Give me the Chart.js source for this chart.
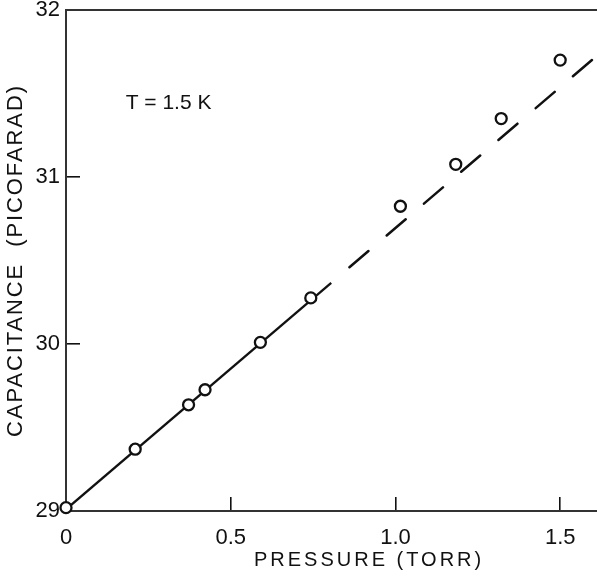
<!DOCTYPE html>
<html>
<head>
<meta charset="utf-8">
<script src="https://cdn.jsdelivr.net/npm/chart.js@4/dist/chart.umd.min.js"></script>
<style>
  html, body { margin: 0; padding: 0; background: #fff; overflow: hidden; width: 597px; height: 579px; }
  canvas { display: block; }
</style>
</head>
<body>
<canvas id="c" width="680" height="579"></canvas>
<script>
// ---- data ----
const pressure    = [0, 0.21, 0.372, 0.422, 0.59, 0.743, 1.015, 1.183, 1.321, 1.50];
const capacitance = [29.02, 29.37, 29.636, 29.726, 30.01, 30.276, 30.825, 31.076, 31.35, 31.70];
const fitSolidX = [0, 0.805];
const fitSolidY = [29.01, 30.366];
const fitDashX  = [0.805, 1.774];
const fitDashY  = [30.366, 32.0];
const xTickValues = [0, 0.5, 1.0, 1.5];
const xTickLabels = ['0', '0.5', '1.0', '1.5'];
const yTickValues = [29, 30, 31, 32];
const yTickLabels = ['29', '30', '31', '32'];
const xRange = [0, 1.84];
const yRange = [29, 32];
const xTitle = 'PRESSURE (TORR)';
const yTitle = 'CAPACITANCE  (PICOFARAD)';
const annotationText = 'T = 1.5 K';
const annotationPos = [0.181, 31.44];

const FONT = "'Liberation Sans', Arial, Helvetica, sans-serif";
const INK = '#111';

const toXY = (xs, ys) => xs.map((x, i) => ({ x: x, y: ys[i] }));

const spacingPlugin = {
  id: 'titleSpacing',
  beforeDraw(chart) {
    for (const s of Object.values(chart.scales)) {
      if (s._spacedPatched) continue;
      const orig = s.drawTitle.bind(s);
      const sp = s.axis === 'y' ? '1.9px' : '3px';
      s.drawTitle = function () {
        const ctx = this.ctx;
        ctx.save();
        ctx.letterSpacing = sp;
        orig();
        ctx.restore();
      };
      s._spacedPatched = true;
    }
  }
};

const annotationPlugin = {
  id: 'tempLabel',
  afterDatasetsDraw(chart) {
    const ctx = chart.ctx;
    const px = chart.scales.x.getPixelForValue(annotationPos[0]);
    const py = chart.scales.y.getPixelForValue(annotationPos[1]);
    ctx.save();
    ctx.font = '21px ' + FONT;
    ctx.fillStyle = INK;
    ctx.textAlign = 'left';
    ctx.textBaseline = 'middle';
    ctx.fillText(annotationText, px, py);
    ctx.restore();
  }
};

const noPad = s => { s.paddingTop = 0; s.paddingBottom = 0; s.paddingLeft = 0; s.paddingRight = 0; };

new Chart(document.getElementById('c'), {
  type: 'scatter',
  data: {
    datasets: [
      {
        data: toXY(pressure, capacitance),
        showLine: false,
        pointStyle: 'circle',
        pointRadius: 5.5,
        pointBorderWidth: 2.3,
        pointBackgroundColor: '#fff',
        pointBorderColor: INK,
        clip: false
      },
      {
        data: toXY(fitSolidX, fitSolidY),
        showLine: true,
        borderColor: INK,
        borderWidth: 2.3,
        pointRadius: 0
      },
      {
        data: toXY(fitDashX, fitDashY),
        showLine: true,
        borderColor: INK,
        borderWidth: 2.5,
        borderDash: [25, 24],
        borderDashOffset: 25,
        borderCapStyle: 'round',
        pointRadius: 0
      }
    ]
  },
  options: {
    responsive: false,
    devicePixelRatio: 1,
    animation: false,
    layout: { padding: 0 },
    plugins: { legend: { display: false }, tooltip: { enabled: false } },
    scales: {
      x: {
        type: 'linear',
        position: 'bottom',
        min: xRange[0], max: xRange[1],
        afterFit: s => { s.height = 68; noPad(s); },
        afterBuildTicks: s => { s.ticks = xTickValues.map(v => ({ value: v })); },
        ticks: {
          includeBounds: false,
          padding: 28,
          color: INK,
          font: { family: FONT, size: 22 },
          maxRotation: 0,
          callback: (v) => { const i = xTickValues.indexOf(v); return i >= 0 ? xTickLabels[i] : ''; }
        },
        grid: { drawOnChartArea: false, drawTicks: true, tickLength: -14, color: INK, tickWidth: 1.6, lineWidth: 1.6 },
        border: { display: true, color: '#333', width: 2 },
        title: {
          display: true, text: xTitle, color: INK,
          font: { family: FONT, size: 20 },
          padding: { top: 0, bottom: 7 }
        }
      },
      xTop: {
        type: 'linear',
        position: 'top',
        min: xRange[0], max: xRange[1],
        afterFit: s => { s.height = 10; noPad(s); },
        ticks: { display: false },
        grid: { drawOnChartArea: false, drawTicks: false },
        border: { display: true, color: '#333', width: 2 }
      },
      y: {
        type: 'linear',
        position: 'left',
        min: yRange[0], max: yRange[1],
        afterFit: s => { s.width = 66; noPad(s); },
        afterBuildTicks: s => { s.ticks = yTickValues.map(v => ({ value: v })); },
        ticks: {
          padding: 20,
          color: INK,
          font: { family: FONT, size: 22 },
          callback: (v) => { const i = yTickValues.indexOf(v); return i >= 0 ? yTickLabels[i] : ''; }
        },
        grid: { drawOnChartArea: false, drawTicks: true, tickLength: -14, color: INK, tickWidth: 1.6, lineWidth: 1.6 },
        border: { display: true, color: '#333', width: 2 },
        title: {
          display: true, text: yTitle, color: INK,
          font: { family: FONT, size: 22 },
          padding: { top: 3, bottom: 0 }
        }
      }
    }
  },
  plugins: [spacingPlugin, annotationPlugin]
});
</script>
</body>
</html>
